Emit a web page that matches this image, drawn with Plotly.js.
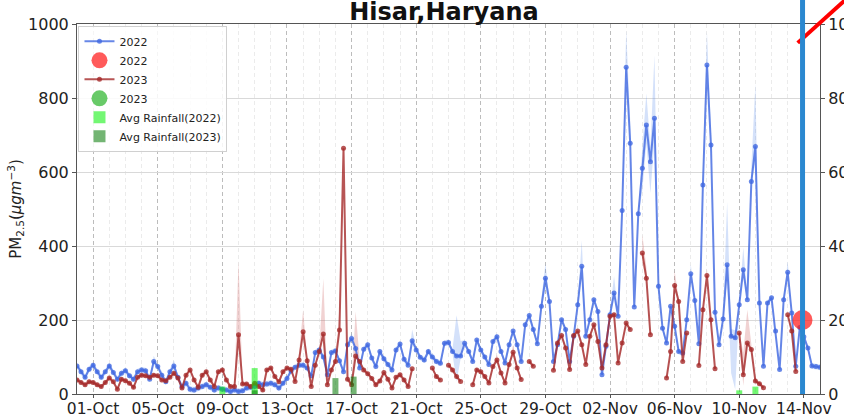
<!DOCTYPE html>
<html><head><meta charset="utf-8">
<script src="https://cdn.plot.ly/plotly-3.0.1.min.js"></script>
<style>html,body{margin:0;padding:0;background:#fff}#chart{width:844px;height:418px}</style>
</head><body><div id="chart"></div>
<script>
// ---------- data ----------
const startDay = Date.UTC(2022, 8, 30);   // 30-Sep, series sampled every 6 h
const stepHours = 6;

const tickDates = ['2022-10-01','2022-10-05','2022-10-09','2022-10-13','2022-10-17','2022-10-21','2022-10-25','2022-10-29','2022-11-02','2022-11-06','2022-11-10','2022-11-14'];
const tickLabels = ['01-Oct','05-Oct','09-Oct','13-Oct','17-Oct','21-Oct','25-Oct','29-Oct','02-Nov','06-Nov','10-Nov','14-Nov'];

// PM2.5 2022 (00,06,12,18 h each day, 30-Sep .. 14-Nov, + 15-Nov 00h)
const pm2022 = [
  76,60,45,67,  78,60,45,60,  76,58,40,56,  63,49,40,60,  65,63,40,88,
  74,51,33,60,  76,45,20,29,  13,11,16,20,  25,18,11,16,  13,11,7,11,
  7,9,16,18,    20,29,25,27,  29,25,16,29,  42,62,72,78,  78,70,49,112,
  119,100,52,112, 116,90,60,133, 150,123,70,121, 133,97,74,115, 95,80,65,119,
  135,94,78,144, 119,99,92,115, 100,88,83,137, 139,115,103,103, 137,115,88,146,
  119,100,80,142, 155,115,84,133, 170,133,88,187, 212,174,136,237, 313,250,88,133,
  201,174,88,156, 241,345,156,201, 255,223,52,129, 214,273,210,496, 883,678,235,487,
  610,727,628,745, 291,178,138,237, 183,115,111,201, 325,253,136,565, 889,673,221,133,
  203,349,156,152, 241,336,255,574, 669,246,75,246, 260,170,66,255, 329,219,75,180,
  155,124,76,74, 72
];
// PM2.5 2023 (same calendar slots)
const pm2023 = [
  38,31,25,33,  31,25,20,31,  43,33,13,40,  36,29,18,45,  51,49,45,51,
  49,38,36,45,  56,43,16,51,  65,38,18,51,  60,38,20,60,  65,38,20,20,
  160,27,27,20, 29,20,11,65,  70,47,33,60,  70,67,34,92,  168,90,20,78,
  115,162,25,65, 88,173,664,40, 25,103,88,65, 55,42,25,35, 58,40,16,45,
  52,38,20,68,  null,null,null,null, 70,47,38,null, 78,65,47,34, null,null,25,65,
  60,47,30,74,  92,57,30,80,  113,70,39,null, 88,75,null,null, null,null,64,138,
  158,124,66,158, 170,133,80,156, 187,142,70,133, 210,214,84,138, 192,174,null,null,
  381,313,160,null, null,null,43,115, 293,250,88,165, null,null,77,228, 320,201,68,null,
  null,null,null,null, 165,52,138,120, 35,28,17,null, null,null,null,null, 214,170,61,null,
  null,null,null,null, null
];

// spread (shaded band) around each series: usual half-width, and wider spots (slot index)
const band2022Base = 8;
const band2022Slot = [19,24,68,83,94,95,115,116,125,133,135,136,137,140,141,142,143,144,152,155,156,157,161,162,163,165,167,168,176];
const band2022Up   = [15,15,15,30,110,40,20,40,70,45,30,100,60,60,85,40,170,30,25,40,90,40,170,20,20,60,40,170,30];
const band2022Dn   = [8,8,8,8,70,8,8,30,30,8,40,20,20,60,50,85,60,8,8,20,30,20,40,100,140,8,8,40,8];
const band2023Base = 6;
const band2023Slot = [40,55,56,61,65,69,104,108,140,141,148,156,165,166];
const band2023Up   = [200,20,60,150,60,120,15,20,50,30,40,20,60,90];
const band2023Dn   = [10,6,6,6,6,6,6,6,30,6,6,6,30,6];

// average rainfall (right axis)
const rain2022Dates = ['2022-10-09','2022-10-11','2022-11-10','2022-11-11'];
const rain2022 = [2, 7, 1, 2];
const rain2023Dates = ['2022-10-11','2022-10-16','2022-10-17 03:00'];
const rain2023 = [1, 4.3, 4.7];

// highlighted point
const mark2022Dates = ['2022-11-13 22:00'];
const mark2022Vals = [200];

// ---------- build ----------
function fmt(ms){ const d=new Date(ms); const p=n=>String(n).padStart(2,'0');
  return d.getUTCFullYear()+'-'+p(d.getUTCMonth()+1)+'-'+p(d.getUTCDate())+' '+p(d.getUTCHours())+':00'; }
const xs = pm2022.map((_,i)=>fmt(startDay + i*stepHours*3600*1000));

function bandTraces(vals, base, slots, up, dn, color){
  const hi = vals.map(v=>v==null?null:v+base), lo = vals.map(v=>v==null?null:Math.max(0,v-base));
  slots.forEach((k,j)=>{ if(vals[k]!=null){ hi[k]=vals[k]+up[j]; lo[k]=Math.max(0,vals[k]-dn[j]); } });
  const out=[]; let seg=[];
  for(let i=0;i<=vals.length;i++){
    if(i<vals.length && vals[i]!=null){ seg.push(i); continue; }
    if(seg.length>1){
      const rev=seg.slice().reverse();
      out.push({x:seg.map(k=>xs[k]).concat(rev.map(k=>xs[k])), y:seg.map(k=>hi[k]).concat(rev.map(k=>lo[k])),
        mode:'lines', line:{width:0}, fill:'toself', fillcolor:color, showlegend:false, hoverinfo:'skip'});
    }
    seg=[];
  }
  return out;
}

const blueLine = 'rgba(65,105,225,0.8)';
const redLine = 'rgba(165,42,42,0.8)';

const traces = [
  ...bandTraces(pm2022, band2022Base, band2022Slot, band2022Up, band2022Dn, 'rgba(100,149,237,0.28)'),
  ...bandTraces(pm2023, band2023Base, band2023Slot, band2023Up, band2023Dn, 'rgba(205,92,92,0.28)'),
  {x:xs, y:pm2022, name:'2022', mode:'lines+markers', line:{color:blueLine, width:2}, marker:{color:blueLine, size:5}, legendrank:1},
  {x:xs, y:pm2023, name:'2023', mode:'lines+markers', line:{color:redLine, width:2}, marker:{color:redLine, size:5}, legendrank:3},
  {x:mark2022Dates, y:mark2022Vals, name:'2022', mode:'markers', marker:{color:'rgba(255,20,20,0.7)', size:20}, legendrank:2},
  {x:[null], y:[null], name:'2023', mode:'markers', marker:{color:'rgba(40,180,40,0.7)', size:20}, legendrank:4},
  {type:'bar', x:rain2022Dates, y:rain2022, yaxis:'y2', name:'Avg Rainfall(2022)', width:32000000, marker:{color:'rgba(0,240,0,0.55)'}, legendrank:5},
  {type:'bar', x:rain2023Dates, y:rain2023, yaxis:'y2', name:'Avg Rainfall(2023)', width:32000000, marker:{color:'rgba(0,120,0,0.55)'}, legendrank:6}
];

const layout = {
  width:844, height:418,
  margin:{l:77, r:24, t:24, b:24, pad:0},
  paper_bgcolor:'#fff', plot_bgcolor:'#fff',
  font:{family:'DejaVu Sans', size:16, color:'#222'},
  title:{text:'<b>Hisar,Haryana</b>', font:{size:24, color:'#111'}, xref:'container', x:0.526, xanchor:'center', yref:'container', y:0.972, yanchor:'middle'},
  showlegend:true,
  legend:{x:0.002, y:0.995, xanchor:'left', yanchor:'top', bgcolor:'rgba(255,255,255,0.85)', bordercolor:'#d0d0d0', borderwidth:1, font:{size:11}, tracegroupgap:0, itemwidth:30},
  barmode:'overlay',
  xaxis:{type:'date', range:['2022-09-30','2022-11-15'], tickmode:'array', tickvals:tickDates, ticktext:tickLabels,
    tickfont:{size:15.5}, ticklabelstandoff:-3,
    showgrid:true, gridcolor:'#bcbcbc', griddash:'4px,3px', gridwidth:1,
    minor:{tickmode:'linear', tick0:'2022-09-30', dtick:86400000, showgrid:true, gridcolor:'#ebebeb', gridwidth:1},
    showline:true, linecolor:'#555', linewidth:1, mirror:true, ticks:'outside', ticklen:3, tickcolor:'#555', zeroline:false},
  yaxis:{range:[0,1000], tickmode:'linear', tick0:0, dtick:200, showgrid:true, gridcolor:'#d9d9d9', gridwidth:1,
    showline:true, linecolor:'#555', mirror:true, ticks:'outside', ticklen:4, tickcolor:'#555', zeroline:false,
    title:{text:'PM<sub>2.5</sub>(<i>μgm</i><sup>−3</sup>)', font:{size:15}, standoff:2}},
  yaxis2:{overlaying:'y', side:'right', range:[0,100], tickmode:'linear', tick0:0, dtick:20, showgrid:false,
    showline:true, linecolor:'#555', ticks:'outside', ticklen:4, tickcolor:'#555', zeroline:false},
  shapes:[
    {type:'line', xref:'paper', yref:'paper', x0:0.970, y0:0.949, x1:1.045, y1:1.085, line:{color:'#ff0000', width:4}},
    {type:'line', xref:'paper', yref:'paper', x0:0.9765, y0:0, x1:0.9765, y1:1.07, line:{color:'#2b88d0', width:5}}
  ]
};

Plotly.newPlot('chart', traces, layout, {displayModeBar:false, staticPlot:true});
</script></body></html>
